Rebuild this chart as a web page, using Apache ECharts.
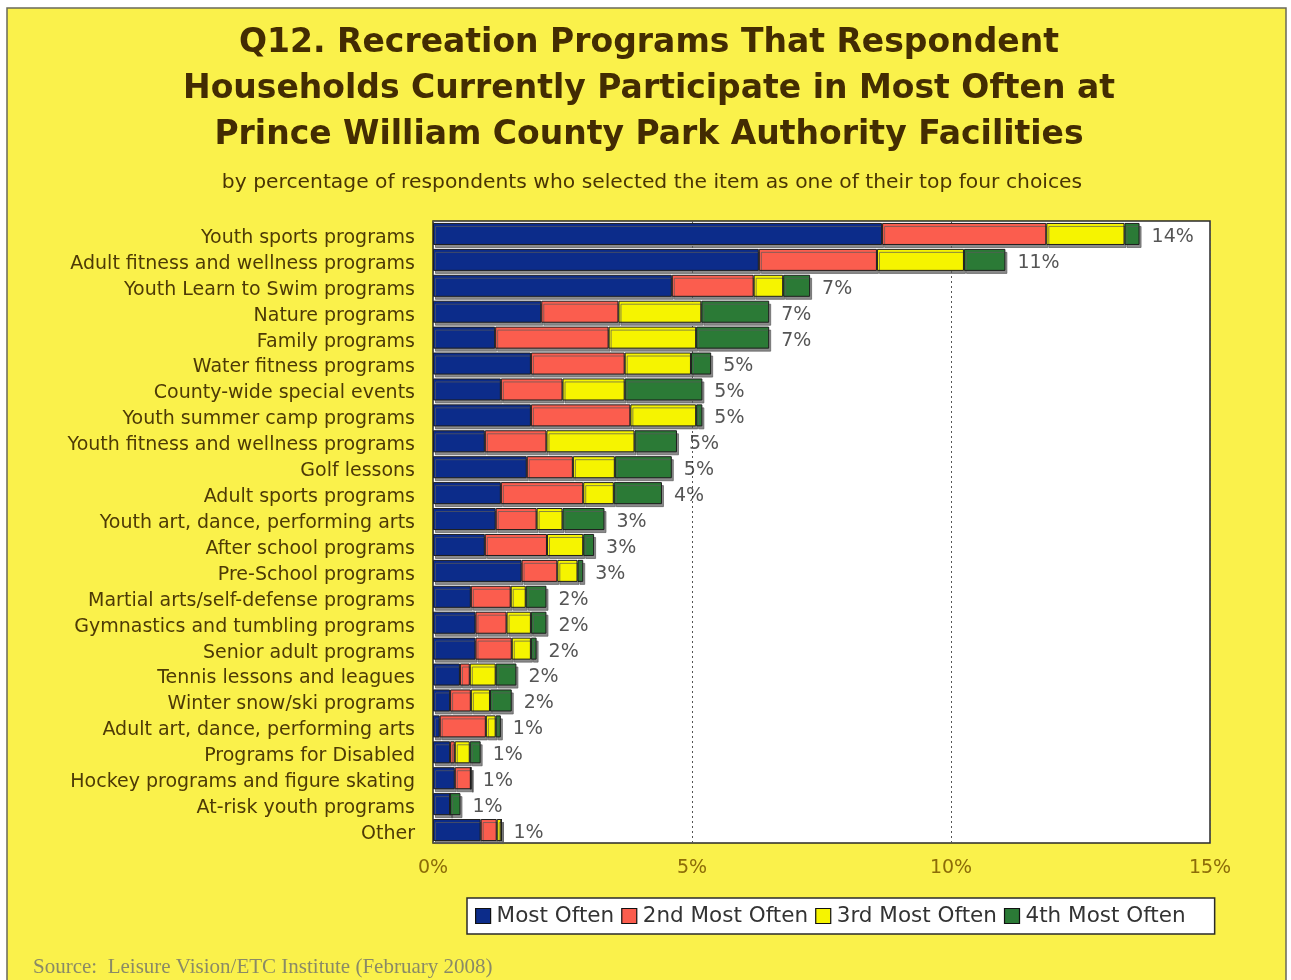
<!DOCTYPE html>
<html>
<head>
<meta charset="utf-8">
<script src="https://cdn.jsdelivr.net/npm/echarts@6/dist/echarts.min.js"></script>
<style>
html,body{margin:0;padding:0;background:#fff;}
#chart{width:1291px;height:980px;}
</style>
</head>
<body>
<div id="chart"></div>
<script>
const categories = [
  'Youth sports programs',
  'Adult fitness and wellness programs',
  'Youth Learn to Swim programs',
  'Nature programs',
  'Family programs',
  'Water fitness programs',
  'County-wide special events',
  'Youth summer camp programs',
  'Youth fitness and wellness programs',
  'Golf lessons',
  'Adult sports programs',
  'Youth art, dance, performing arts',
  'After school programs',
  'Pre-School programs',
  'Martial arts/self-defense programs',
  'Gymnastics and tumbling programs',
  'Senior adult programs',
  'Tennis lessons and leagues',
  'Winter snow/ski programs',
  'Adult art, dance, performing arts',
  'Programs for Disabled',
  'Hockey programs and figure skating',
  'At-risk youth programs',
  'Other'
];
const mostOften = [8.67, 6.29, 4.61, 2.09, 1.20, 1.89, 1.31, 1.89, 1.00, 1.81, 1.31, 1.21, 1.00, 1.71, 0.73, 0.82, 0.82, 0.52, 0.33, 0.13, 0.33, 0.42, 0.33, 0.92];
const secondMost = [3.17, 2.28, 1.58, 1.49, 2.19, 1.81, 1.19, 1.92, 1.19, 0.89, 1.59, 0.79, 1.20, 0.69, 0.77, 0.60, 0.70, 0.19, 0.40, 0.89, 0.09, 0.31, 0, 0.31];
const thirdMost = [1.51, 1.68, 0.57, 1.60, 1.69, 1.28, 1.20, 1.27, 1.70, 0.81, 0.59, 0.50, 0.70, 0.39, 0.29, 0.47, 0.37, 0.50, 0.37, 0.19, 0.29, 0, 0, 0.09];
const fourthMost = [0.29, 0.80, 0.52, 1.31, 1.41, 0.39, 1.50, 0.12, 0.82, 1.10, 0.93, 0.81, 0.21, 0.11, 0.40, 0.30, 0.11, 0.40, 0.42, 0.10, 0.21, 0, 0.20, 0];
const totalLabels = ['14%','11%','7%','7%','7%','5%','5%','5%','5%','5%','4%','3%','3%','3%','2%','2%','2%','2%','2%','1%','1%','1%','1%','1%'];
const seriesNames = ['Most Often', '2nd Most Often', '3rd Most Often', '4th Most Often'];
const titleLines = [
  'Q12. Recreation Programs That Respondent',
  'Households Currently Participate in Most Often at',
  'Prince William County Park Authority Facilities'
];
const subtitleText = 'by percentage of respondents who selected the item as one of their top four choices';
const sourceText = 'Source:  Leisure Vision/ETC Institute (February 2008)';
const xTicks = [0, 5, 10, 15];

const colors = ['#0c2c8a', '#fb5d4e', '#f6f400', '#2b7a36'];
const seriesData = [mostOften, secondMost, thirdMost, fourthMost];
const totals = categories.map((c, i) => seriesData.reduce((s, arr) => s + arr[i], 0));

const chart = echarts.init(document.getElementById('chart'), null, {renderer: 'canvas'});
const FONT = 'DejaVu Sans';

const barSeries = seriesNames.map((name, k) => ({
  name: name,
  type: 'bar',
  stack: 'total',
  barCategoryGap: '15%',
  data: seriesData[k],
  itemStyle: {
    color: colors[k],
    borderColor: '#1e1e1e',
    borderWidth: 1,
    shadowColor: 'rgba(90,90,90,0.7)',
    shadowOffsetX: 2,
    shadowOffsetY: 3,
    shadowBlur: 0
  },
  emphasis: {disabled: true},
  animation: false
}));

const titleGraphics = titleLines.map((line, i) => ({
  type: 'text',
  x: 649,
  y: 43 + i * 46,
  z: 10,
  style: {
    text: line,
    textAlign: 'center',
    textVerticalAlign: 'middle',
    font: 'bold 33px "DejaVu Sans"',
    fill: '#432c02'
  }
}));

const option = {
  animation: false,
  backgroundColor: '#ffffff',
  graphic: [{
    type: 'rect',
    z: -10,
    shape: {x: 7, y: 8, width: 1279, height: 990},
    style: {fill: '#faf14b', stroke: '#6a6a5a', lineWidth: 1.5}
  }].concat(titleGraphics).concat([{
    type: 'text',
    x: 652,
    y: 183,
    z: 10,
    style: {
      text: subtitleText,
      textAlign: 'center',
      textVerticalAlign: 'middle',
      font: '20.3px "DejaVu Sans"',
      fill: '#4a3504'
    }
  }, {
    type: 'text',
    x: 33,
    y: 967,
    z: 10,
    style: {
      text: sourceText,
      textAlign: 'left',
      textVerticalAlign: 'middle',
      font: '21px "Liberation Serif"',
      fill: '#8a8a66'
    }
  }]),
  legend: {
    data: seriesNames,
    left: 467,
    top: 898,
    backgroundColor: '#ffffff',
    borderColor: '#2a2a2a',
    borderWidth: 1.5,
    padding: [7, 29, 7, 8],
    itemGap: 7,
    itemWidth: 15,
    itemHeight: 15,
    icon: 'rect',
    itemStyle: {borderColor: '#111', borderWidth: 1.2, shadowBlur: 0, shadowOffsetX: 0, shadowOffsetY: 0},
    textStyle: {fontFamily: FONT, fontSize: 21.5, color: '#333333', padding: [0, 0, 0, 1]},
    selectedMode: false
  },
  grid: {
    left: 433, right: 81, top: 221, bottom: 137,
    show: true, backgroundColor: '#ffffff', borderColor: '#2a2a2a', borderWidth: 1.5
  },
  xAxis: {
    type: 'value',
    min: xTicks[0], max: xTicks[xTicks.length - 1], interval: 5,
    axisLine: {show: false},
    axisTick: {show: false},
    splitLine: {show: true, lineStyle: {color: '#555', type: [2, 3], width: 1}},
    axisLabel: {formatter: '{value}%', fontFamily: FONT, fontSize: 19, color: '#8c6c08', margin: 16}
  },
  yAxis: {
    type: 'category',
    data: categories,
    inverse: true,
    axisLine: {show: false},
    axisTick: {show: false},
    axisLabel: {
      margin: 18, interval: 0,
      formatter: v => '{a|' + v + '}',
      rich: {a: {fontFamily: FONT, fontSize: 19, color: '#4d3a06', padding: [8, 0, 0, 0]}}
    }
  },
  series: barSeries.concat([{
    name: 'totals',
    type: 'scatter',
    symbolSize: 0,
    data: totals.map((t, i) => [t, categories[i]]),
    label: {
      show: true,
      position: 'right',
      distance: 12,
      formatter: p => '{a|' + totalLabels[p.dataIndex] + '}',
      rich: {a: {fontFamily: FONT, fontSize: 19, color: '#2a2a2a', padding: [6, 0, 0, 0]}}
    },
    z: 5,
    silent: true
  }])
};
chart.setOption(option);
</script>
</body>
</html>
